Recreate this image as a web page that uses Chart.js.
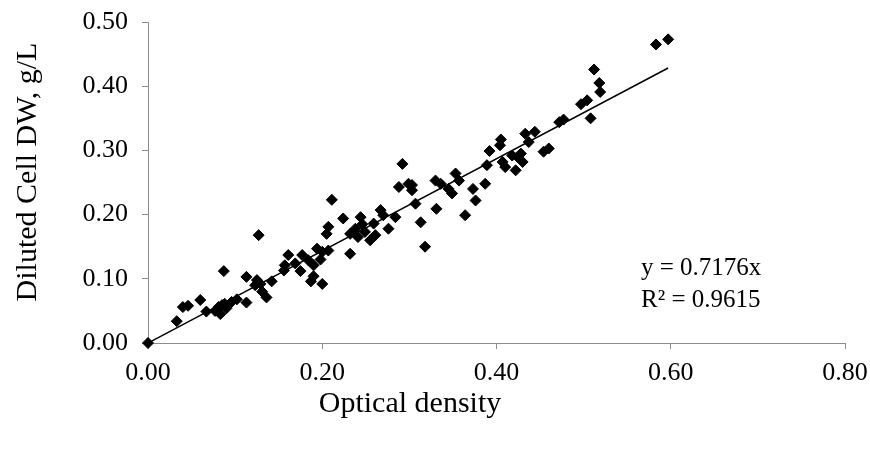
<!DOCTYPE html>
<html><head><meta charset="utf-8">
<script src="https://cdn.jsdelivr.net/npm/chart.js@4"></script>
<style>html,body{margin:0;padding:0;background:#fff}#wrap{width:870px;height:450px}</style>
</head><body><div id="wrap"><canvas id="c" width="870" height="450"></canvas></div>
<script>
// Optical density (x) and diluted cell dry weight (y)
const odValues = [
  0.000, 0.033, 0.040, 0.046, 0.060, 0.067, 0.077, 0.081, 0.083, 0.085,
  0.087, 0.088, 0.090, 0.096, 0.102, 0.113, 0.113, 0.123, 0.125, 0.127,
  0.129, 0.131, 0.136, 0.142, 0.156, 0.157, 0.161, 0.169, 0.175, 0.177,
  0.184, 0.187, 0.190, 0.190, 0.194, 0.198, 0.200, 0.200, 0.205, 0.207,
  0.207, 0.211, 0.224, 0.232, 0.232, 0.238, 0.241, 0.244, 0.246, 0.249,
  0.255, 0.259, 0.261, 0.267, 0.270, 0.276, 0.284, 0.288, 0.292, 0.299,
  0.303, 0.303, 0.307, 0.313, 0.318, 0.330, 0.331, 0.336, 0.345, 0.349,
  0.353, 0.357, 0.364, 0.373, 0.376, 0.387, 0.389, 0.392, 0.404, 0.405,
  0.407, 0.410, 0.418, 0.422, 0.424, 0.428, 0.430, 0.433, 0.437, 0.444,
  0.454, 0.460, 0.472, 0.477, 0.497, 0.504, 0.508, 0.512, 0.518, 0.519,
  0.583, 0.597
];
const dwValues = [
  0.000, 0.034, 0.056, 0.058, 0.067, 0.049, 0.050, 0.056, 0.045, 0.059,
  0.112, 0.061, 0.054, 0.064, 0.068, 0.103, 0.063, 0.090, 0.098, 0.168,
  0.092, 0.080, 0.071, 0.096, 0.113, 0.121, 0.137, 0.124, 0.112, 0.137,
  0.129, 0.096, 0.121, 0.104, 0.147, 0.130, 0.092, 0.142, 0.170, 0.144,
  0.181, 0.223, 0.194, 0.139, 0.170, 0.178, 0.165, 0.196, 0.185, 0.173,
  0.160, 0.186, 0.168, 0.207, 0.199, 0.178, 0.196, 0.243, 0.279, 0.248,
  0.238, 0.246, 0.217, 0.188, 0.150, 0.253, 0.209, 0.248, 0.240, 0.233,
  0.264, 0.253, 0.199, 0.240, 0.222, 0.248, 0.277, 0.299, 0.308, 0.317,
  0.282, 0.274, 0.292, 0.269, 0.290, 0.295, 0.282, 0.326, 0.313, 0.329,
  0.298, 0.303, 0.344, 0.348, 0.372, 0.378, 0.350, 0.426, 0.405, 0.391,
  0.465, 0.473
];
const xTickValues = [0.00, 0.20, 0.40, 0.60, 0.80];
const yTickValues = [0.00, 0.10, 0.20, 0.30, 0.40, 0.50];
const trendSlope = 0.7176;
const trendR2 = 0.9615;
const trendXRange = [0, 0.597];
const xTitle = 'Optical density';
const yTitle = 'Diluted Cell DW, g/L';

const axisGray = '#8c8c8c';
const serif = '"Liberation Serif", "Times New Roman", serif';

const scatterData = odValues.map((x, i) => ({ x: x, y: dwValues[i] }));
const trendData = trendXRange.map(x => ({ x: x, y: trendSlope * x }));

const textPlugin = {
  id: 'texts',
  afterDraw(chart) {
    const ctx = chart.ctx;
    ctx.save();
    ctx.fillStyle = '#000';
    ctx.textBaseline = 'middle';
    ctx.textAlign = 'center';
    ctx.font = '30px ' + serif;
    ctx.fillText(xTitle, 410, 404);
    ctx.save();
    ctx.translate(28, 172);
    ctx.rotate(-Math.PI / 2);
    ctx.fillText(yTitle, 0, 0);
    ctx.restore();
    ctx.textAlign = 'left';
    ctx.font = '25px ' + serif;
    ctx.fillText('y = ' + trendSlope + 'x', 641, 268);
    ctx.fillText('R\u00B2 = ' + trendR2, 641, 300);
    ctx.restore();
  }
};

new Chart(document.getElementById('c'), {
  type: 'scatter',
  data: {
    datasets: [
      {
        label: 'Trend',
        type: 'line',
        data: trendData,
        borderColor: '#000',
        borderWidth: 1.5,
        pointRadius: 0,
        fill: false,
        order: 2
      },
      {
        label: 'Data',
        data: scatterData,
        pointStyle: 'rectRot',
        pointRadius: 5.5,
        pointBackgroundColor: '#000',
        pointBorderColor: '#000',
        pointBorderWidth: 1,
        clip: false,
        order: 1
      }
    ]
  },
  plugins: [textPlugin],
  options: {
    responsive: false,
    animation: false,
    layout: { padding: { top: 22, right: 25, left: 0, bottom: 0 } },
    plugins: { legend: { display: false }, tooltip: { enabled: false } },
    scales: {
      x: {
        type: 'linear',
        min: 0, max: 0.8,
        afterBuildTicks(scale) { scale.ticks = xTickValues.map(v => ({ value: v })); },
        afterFit(scale) { scale.height = 107; scale.paddingLeft = 0; scale.paddingRight = 0; },
        ticks: {
          callback: v => Number(v).toFixed(2),
          font: { family: serif, size: 26 },
          color: '#000',
          padding: 9,
          maxRotation: 0
        },
        grid: { drawOnChartArea: false, drawTicks: true, tickLength: 6, color: axisGray, lineWidth: 1 },
        border: { color: axisGray, width: 1 }
      },
      y: {
        type: 'linear',
        min: 0, max: 0.5,
        afterBuildTicks(scale) { scale.ticks = yTickValues.map(v => ({ value: v })); },
        afterFit(scale) { scale.width = 148; scale.paddingTop = 0; scale.paddingBottom = 0; },
        ticks: {
          callback: v => Number(v).toFixed(2),
          font: { family: serif, size: 26 },
          color: '#000',
          padding: 14
        },
        grid: { drawOnChartArea: false, drawTicks: true, tickLength: 6, color: axisGray, lineWidth: 1 },
        border: { color: axisGray, width: 1 }
      }
    }
  }
});
</script>
</body></html>
